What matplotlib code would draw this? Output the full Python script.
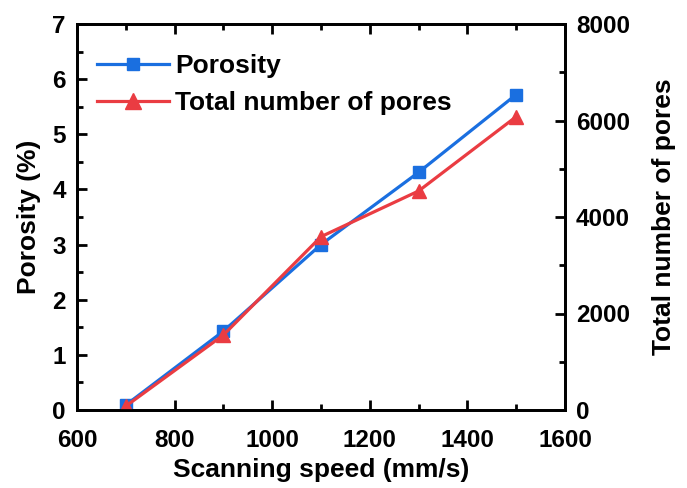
import numpy as np
import matplotlib.pyplot as plt
from matplotlib.ticker import MultipleLocator

plt.rcParams['font.family'] = ['Liberation Sans', 'DejaVu Sans']
plt.rcParams['font.weight'] = 'bold'

speed = [700, 900, 1100, 1300, 1500]
porosity = [0.09, 1.43, 3.0, 4.31, 5.72]
pores = [80, 1554, 3592, 4539, 6079]

blue = '#1a6fe0'
red = '#ea3c42'

fig = plt.figure(figsize=(6.87, 4.88), dpi=100)
ax1 = fig.add_axes([77 / 687, 78 / 488, 488 / 687, 386 / 488])
ax2 = ax1.twinx()

l1, = ax1.plot(speed, porosity, color=blue, lw=2.3, marker='s', ms=8, label='Porosity')
l2, = ax2.plot(speed, pores, color=red, lw=2.3, marker='^', ms=10, label='Total number of pores')

ax1.set_xlim(600, 1600)
ax1.set_ylim(0, 7)
ax2.set_ylim(0, 8000)
ax1.xaxis.set_major_locator(MultipleLocator(200))
ax1.xaxis.set_minor_locator(MultipleLocator(100))
ax1.yaxis.set_major_locator(MultipleLocator(1))
ax1.yaxis.set_minor_locator(MultipleLocator(0.5))
ax2.yaxis.set_major_locator(MultipleLocator(2000))
ax2.yaxis.set_minor_locator(MultipleLocator(1000))

for ax in (ax1, ax2):
    for s in ax.spines.values():
        s.set_linewidth(2)
    ax.tick_params(which='both', direction='in', width=2, labelsize=17.5, pad=8)
    ax.tick_params(which='major', length=7)
    ax.tick_params(which='minor', length=4)
ax1.tick_params(axis='x', which='both', top=True, pad=14)
ax1.tick_params(axis='y', which='both', right=False)

ax1.set_xlabel('Scanning speed (mm/s)', fontsize=19, fontweight='bold', labelpad=4)
ax1.set_ylabel('Porosity (%)', fontsize=19, fontweight='bold', labelpad=8)
ax2.set_ylabel('Total number of pores', fontsize=19, fontweight='bold', labelpad=16)

ax1.legend([l1, l2], ['Porosity', 'Total number of pores'], loc='upper left',
           bbox_to_anchor=(0.02, 0.95), frameon=False, fontsize=19,
           handlelength=2.7, handletextpad=0.25, borderaxespad=0.0,
           labelspacing=0.5, markerscale=1.1)

fig.savefig('out.png', dpi=100)
